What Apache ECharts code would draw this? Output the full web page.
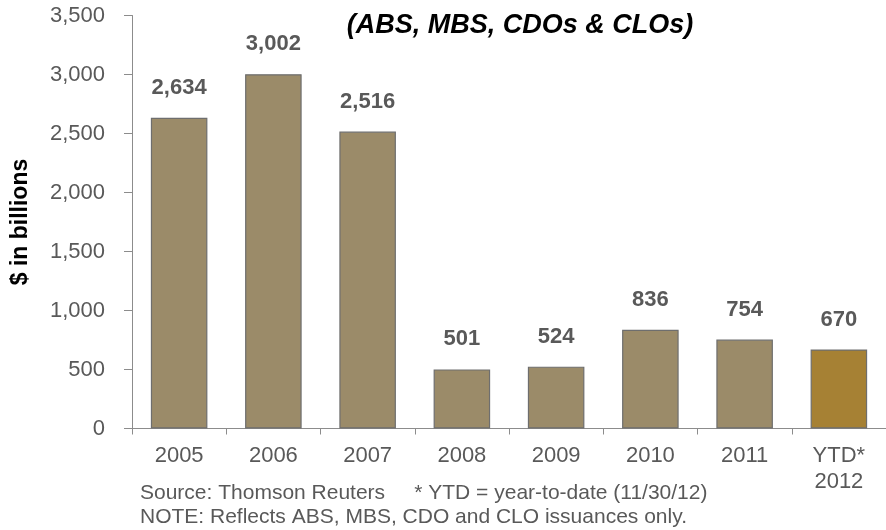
<!DOCTYPE html>
<html>
<head>
<meta charset="utf-8">
<script src="https://cdn.jsdelivr.net/npm/echarts@6/dist/echarts.min.js"></script>
<style>
  html, body { margin: 0; padding: 0; background: #fff; }
  #chart { width: 886px; height: 530px; }
</style>
</head>
<body>
<div id="chart"></div>
<script>
// Securitized issuance by year, $ billions
const categories = ['2005', '2006', '2007', '2008', '2009', '2010', '2011', 'YTD*\n2012'];
const issuance = [2634, 3002, 2516, 501, 524, 836, 754, 670];
const yTicks = { min: 0, max: 3500, interval: 500 };

const baseColor = '#9b8b69';
const ytdColor = '#a68134';
const textGray = '#595959';
const font = 'Liberation Sans, Arial, sans-serif';

const barData = issuance.map((v, i) => ({
  value: v,
  itemStyle: { color: i === issuance.length - 1 ? ytdColor : baseColor }
}));

const chart = echarts.init(document.getElementById('chart'));
chart.setOption({
  animation: false,
  textStyle: { fontFamily: font },
  title: {
    text: '(ABS, MBS, CDOs & CLOs)',
    left: 515,
    top: 7,
    textAlign: 'center',
    textStyle: { fontSize: 27, fontWeight: 'bold', fontStyle: 'italic', color: '#000', fontFamily: font }
  },
  graphic: [
    {
      type: 'text', left: 140, top: 483,
      style: { text: 'Source: Thomson Reuters     * YTD = year-to-date (11/30/12)', fill: textGray, font: '21px ' + font }
    },
    {
      type: 'text', left: 140, top: 507,
      style: { text: 'NOTE: Reflects ABS, MBS, CDO and CLO issuances only.', fill: textGray, font: '21px ' + font }
    }
  ],
  grid: { left: 132, top: 15.5, width: 755, height: 413, containLabel: false },
  xAxis: {
    type: 'category',
    data: categories,
    axisLine: { lineStyle: { color: '#8c8c8c', width: 1 } },
    axisTick: { show: true, length: 6, alignWithLabel: false, lineStyle: { color: '#8c8c8c' } },
    axisLabel: { color: textGray, fontSize: 22, margin: 14, lineHeight: 26, fontFamily: font, interval: 0 }
  },
  yAxis: {
    type: 'value',
    min: yTicks.min, max: yTicks.max, interval: yTicks.interval,
    name: '$ in billions',
    nameLocation: 'middle',
    nameRotate: 90,
    nameGap: 100,
    nameTextStyle: { fontSize: 23, fontWeight: 'bold', color: '#000', fontFamily: font },
    axisLine: { show: true, lineStyle: { color: '#8c8c8c', width: 1 } },
    axisTick: { show: true, length: 8, lineStyle: { color: '#8c8c8c' } },
    splitLine: { show: false },
    axisLabel: {
      color: textGray, fontSize: 22, margin: 27, fontFamily: font,
      formatter: v => v.toLocaleString('en-US')
    }
  },
  series: [{
    type: 'bar',
    data: barData,
    barWidth: '60%',
    itemStyle: { borderColor: '#6e6e6e', borderWidth: 1.2 },
    label: {
      show: true,
      position: 'top',
      distance: 19,
      color: textGray,
      fontSize: 22,
      fontWeight: 'bold',
      fontFamily: font,
      formatter: p => p.value.toLocaleString('en-US')
    }
  }]
});
</script>
</body>
</html>
